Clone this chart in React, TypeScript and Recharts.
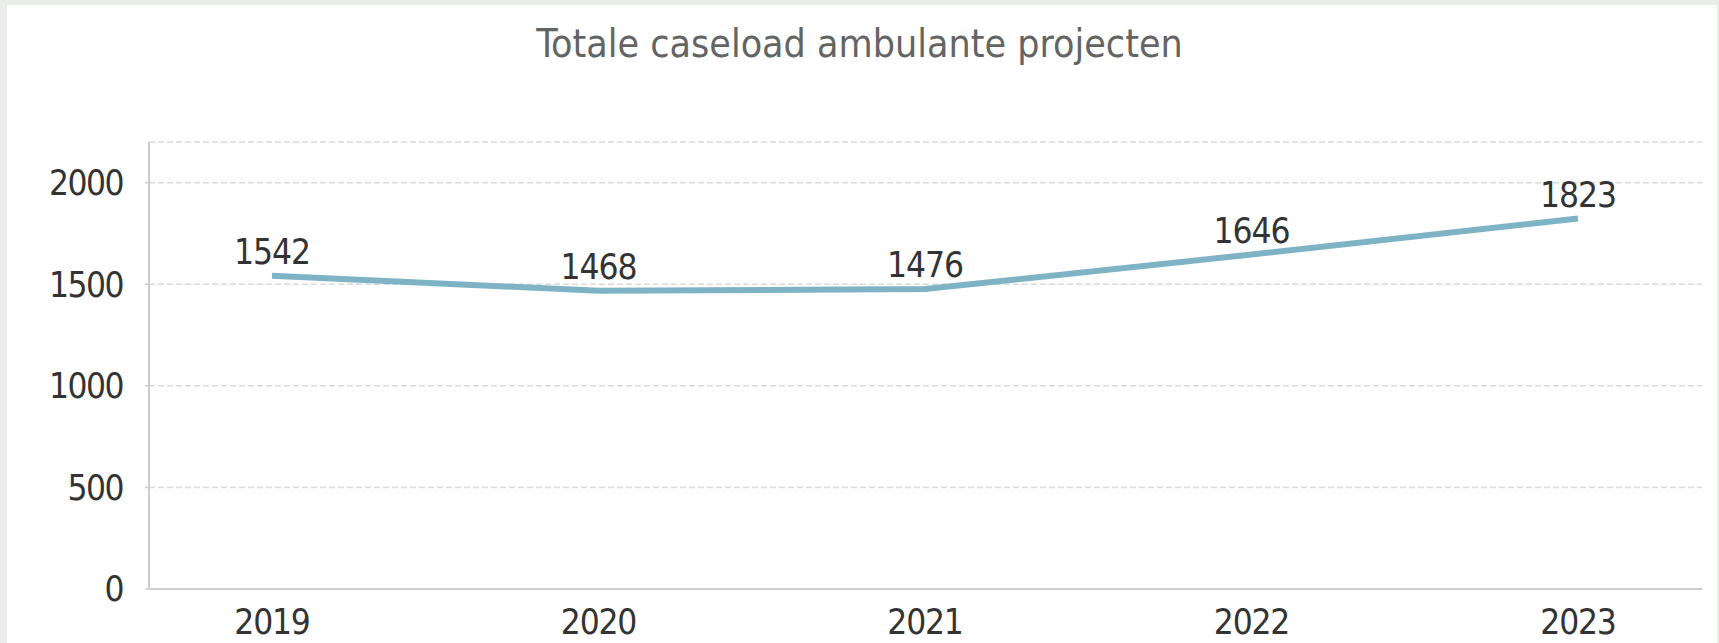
import React from "react";
import { LineChart, Line, XAxis, YAxis, CartesianGrid, LabelList } from "recharts";

const years = ["2019", "2020", "2021", "2022", "2023"];
const caseload = [1542, 1468, 1476, 1646, 1823];
const yTicks = [0, 500, 1000, 1500, 2000];
const title = "Totale caseload ambulante projecten";

const data = years.map((y, i) => ({ year: y, value: caseload[i] }));

const FONT = "'DejaVu Sans Condensed', 'DejaVu Sans', sans-serif";

export default function App() {
  return (
    <div style={{ position: "absolute", left: 0, top: 0, width: 1719, height: 643, background: "#ebedeb", overflow: "hidden" }}>
      <style>{`body{margin:0;}`}</style>
      <div style={{ position: "absolute", left: 7, top: 5, width: 1710, height: 638, background: "#ffffff" }} />
      <div
        style={{
          position: "absolute",
          left: 0,
          top: 0,
          width: 1719,
          textAlign: "center",
          fontFamily: FONT,
          fontStretch: "condensed",
          fontSize: 39,
          lineHeight: "39px",
          color: "#646464",
          paddingTop: 24,
        }}
      >
        {title}
      </div>
      <div style={{ position: "absolute", left: 0, top: 0 }}>
        <LineChart width={1719} height={643} data={data} margin={{ top: 142, right: 17, bottom: 24, left: 0 }}>
          <CartesianGrid vertical={false} stroke="#dadada" strokeDasharray="6 3" strokeWidth={1.5} />
          <XAxis
            dataKey="year"
            padding={{ left: 123, right: 124 }}
            tickLine={false}
            tickMargin={14}
            axisLine={{ stroke: "#cccccc", strokeWidth: 2 }}
            tick={{ fill: "#333333", fontSize: 35, fontFamily: FONT, fontStretch: "condensed", letterSpacing: -1.2 }}
            height={30}
          />
          <YAxis
            domain={[0, 2200]}
            ticks={yTicks}
            width={149}
            tickSize={4}
            tickMargin={22}
            axisLine={{ stroke: "#cccccc", strokeWidth: 2 }}
            tickLine={{ stroke: "#cccccc", strokeWidth: 1.5 }}
            tick={{ fill: "#333333", fontSize: 35, fontFamily: FONT, fontStretch: "condensed", letterSpacing: -1.5 }}
          />
          <Line
            type="linear"
            dataKey="value"
            stroke="#7eb3c6"
            strokeWidth={6}
            dot={false}
            activeDot={false}
            isAnimationActive={false}
          >
            <LabelList
              dataKey="value"
              position="top"
              offset={12}
              fill="#333333"
              fontSize={35}
              fontFamily={FONT}
              style={{ fontStretch: "condensed", letterSpacing: -1 }}
            />
          </Line>
        </LineChart>
      </div>
    </div>
  );
}
